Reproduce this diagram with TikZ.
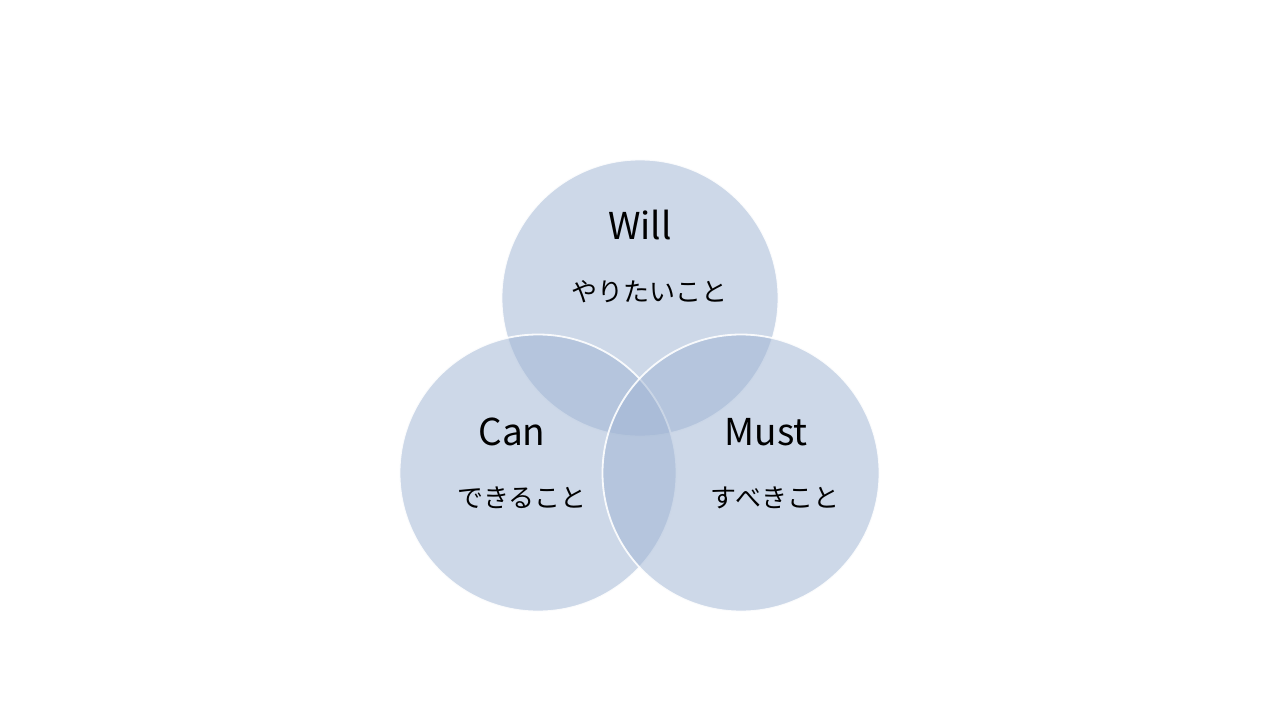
\documentclass[tikz,border=0pt]{standalone}
\usepackage{fontspec}
\setmainfont{Noto Sans CJK JP}
\begin{document}
\begin{tikzpicture}[x=1pt,y=-1pt,
  venn/.style={circle,minimum size=277pt,inner sep=0pt,fill={rgb,255:red,159;green,180;blue,211},fill opacity=0.52,draw=white,draw opacity=0.9,line width=1.8pt},
  title/.style={font=\fontsize{37}{40}\selectfont,text=black},
  sub/.style={font=\fontsize{26}{30}\selectfont,text=black}]
\useasboundingbox (0,0) rectangle (1280,720);
\node[venn] (will) at (640,298) {};
\node[venn] (can) at (538,473) {};
\node[venn] (must) at (741,473) {};
\node[title] (willt) at (640,225) {Will};
\node[sub] (wills) at (649,292) {やりたいこと};
\node[title] (cant) at (512,432) {Can};
\node[sub] (cans) at (522,498) {できること};
\node[title] (mustt) at (766,432) {Must};
\node[sub] (musts) at (775,498) {すべきこと};
\end{tikzpicture}
\end{document}
